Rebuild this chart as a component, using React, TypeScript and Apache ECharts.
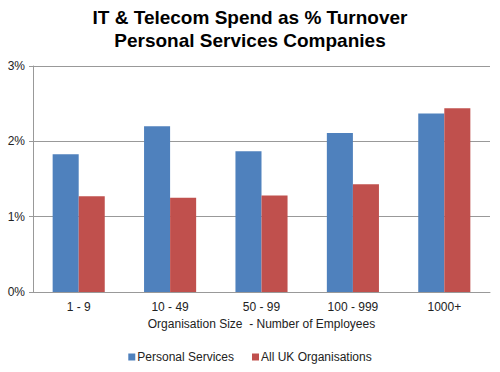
import React, { useEffect, useRef } from "react";
import * as echarts from "echarts";

const categories = ["1 - 9", "10 - 49", "50 - 99", "100 - 999", "1000+"];
const personalServices = [1.83, 2.2, 1.87, 2.11, 2.37];
const allUK = [1.27, 1.25, 1.28, 1.43, 2.44];
const yTicks = [0, 1, 2, 3];

export default function App() {
  const ref = useRef<HTMLDivElement>(null);
  useEffect(() => {
    const chart = echarts.init(ref.current!, null, { renderer: "svg" });
    const font = "Liberation Sans, Arial, sans-serif";
    chart.setOption({
      animation: false,
      backgroundColor: "#ffffff",
      textStyle: { fontFamily: font },
      title: {
        text: "IT & Telecom Spend as % Turnover\nPersonal Services Companies",
        left: "center",
        top: 1,
        textStyle: { fontSize: 19, fontWeight: "bold", color: "#000", lineHeight: 23, fontFamily: font },
      },
      legend: {
        bottom: 4,
        left: "center",
        itemWidth: 7,
        itemHeight: 7,
        itemGap: 18,
        icon: "rect",
        textStyle: { fontSize: 12, color: "#222", fontFamily: font, padding: [0, 0, 0, -3] },
        data: ["Personal Services", "All UK Organisations"],
      },
      grid: { left: 33, right: 10, top: 66, bottom: 80 },
      xAxis: {
        type: "category",
        data: categories,
        name: "Organisation Size  - Number of Employees",
        nameLocation: "middle",
        nameGap: 26,
        nameTextStyle: { fontSize: 12, color: "#222", fontFamily: font },
        axisLine: { lineStyle: { color: "#999" } },
        axisTick: { show: false },
        axisLabel: { fontSize: 12, color: "#222", margin: 9, fontFamily: font },
      },
      yAxis: {
        type: "value",
        min: yTicks[0],
        max: yTicks[yTicks.length - 1],
        interval: 1,
        axisLine: { show: true, lineStyle: { color: "#999" } },
        axisTick: { show: true, length: 4, lineStyle: { color: "#999" } },
        splitLine: { lineStyle: { color: "#999" } },
        axisLabel: { formatter: "{value}%", fontSize: 12, color: "#222", margin: 8, fontFamily: font },
      },
      series: [
        {
          name: "Personal Services",
          type: "bar",
          data: personalServices,
          itemStyle: { color: "#4f81bd" },
          barGap: "0%",
          barCategoryGap: "43%",
        },
        {
          name: "All UK Organisations",
          type: "bar",
          data: allUK,
          itemStyle: { color: "#c0504d" },
          barGap: "0%",
          barCategoryGap: "43%",
        },
      ],
    });
    return () => chart.dispose();
  }, []);
  return <div ref={ref} style={{ width: 500, height: 372, position: "absolute", left: 0, top: 0 }} />;
}
